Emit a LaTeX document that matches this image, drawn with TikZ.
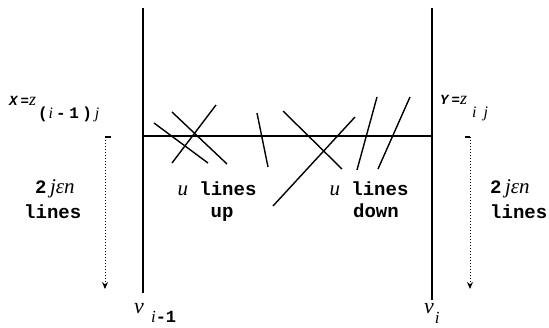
\documentclass[tikz,border=0pt]{standalone}
\usepackage{fontspec}
\setmonofont{Liberation Mono}
\newfontfamily\itf{Liberation Serif}
\newfontfamily\sptt{Liberation Mono}[LetterSpace=22]
\newcommand{\itp}[1]{{\itf\mdseries\itshape #1}}
\usetikzlibrary{arrows.meta}
\tikzset{
  mainline/.style={line width=1.1pt},
  crossline/.style={line width=1.4pt},
  guide/.style={dotted, line width=1pt, -{Stealth[length=7pt,width=6pt]}},
  hook/.style={line width=1.1pt},
  lbl/.style={font=\ttfamily\bfseries\fontsize{19}{22}\selectfont, inner sep=0pt},
  zlbl/.style={font=\sptt\bfseries\fontsize{14}{16}\selectfont, inner sep=0pt},
  vlbl/.style={font=\itf\itshape\fontsize{22}{24}\selectfont, inner sep=0pt},
}
\begin{document}
\begin{tikzpicture}[x=1pt,y=-1pt]
\useasboundingbox (0,0) rectangle (549,327);
% main frame
\coordinate (lt) at (143,8);
\coordinate (lb) at (143,293);
\coordinate (rt) at (432,8);
\coordinate (rb) at (432,300);
\coordinate (hl) at (143,136);
\coordinate (hr) at (432,136);
\draw[mainline] (lt) -- (lb);
\draw[mainline] (rt) -- (rb);
\draw[mainline] (hl) -- (hr);
% crossing lines
\draw[crossline] (154,123) -- (208,163);
\draw[crossline] (172,112) -- (227,164);
\draw[crossline] (216,105) -- (172,163);
\draw[crossline] (257,113) -- (268,167);
\draw[crossline] (283,111) -- (342,169);
\draw[crossline] (355,117) -- (273,206);
\draw[crossline] (377,97) -- (357,170);
\draw[crossline] (410,97) -- (378,169);
% dotted guides
\coordinate (gl0) at (111,137);
\coordinate (gl1) at (105,137);
\coordinate (gl2) at (105,289);
\coordinate (gr0) at (465,137);
\coordinate (gr1) at (470,137);
\coordinate (gr2) at (470,289);
\draw[hook] (gl0) -- (gl1);
\draw[guide] (gl1) -- (gl2);
\draw[hook] (gr0) -- (gr1);
\draw[guide] (gr1) -- (gr2);
% labels
\node[zlbl, anchor=base west] (xlab) at (9,105) {\itshape X=\itp{\fontsize{18}{18}\selectfont z}\raisebox{-13pt}{\fontsize{16}{18}\selectfont\upshape\kern2pt(\kern1pt\itp{i}\kern3pt-1)\kern3pt\itp{j}}};
\node[zlbl, anchor=base west] (ylab) at (440,104) {\itshape Y=\itp{\fontsize{18}{18}\selectfont z}\hspace{5pt}\raisebox{-13pt}{\itp{\fontsize{16}{18}\selectfont i\hspace{7pt}j}}};
\node[lbl, anchor=base west] (ln1) at (35,193) {2\itp{\fontsize{21}{22}\selectfont \,jεn}};
\node[lbl, anchor=base west] (ln2) at (24,218) {lines};
\node[lbl, anchor=base west] (rn1) at (490,193) {2\itp{\fontsize{21}{22}\selectfont \,jεn}};
\node[lbl, anchor=base west] (rn2) at (490,218) {lines};
\node[lbl, anchor=base] (ulu) at (217,195) {\itp{\fontsize{21}{22}\selectfont u} lines};
\node[lbl, anchor=base] (up) at (222,217) {up};
\node[lbl, anchor=base] (uld) at (369,195) {\itp{\fontsize{21}{22}\selectfont u} lines};
\node[lbl, anchor=base] (down) at (376,217) {down};
\node[vlbl, anchor=base west] (v1) at (134,313) {v\raisebox{-9pt}{\fontsize{17}{18}\selectfont\, i{\ttfamily\bfseries\upshape -1}}};
\node[vlbl, anchor=base west] (v2) at (424,313) {v\raisebox{-10pt}{\fontsize{17}{18}\selectfont\kern1pt i}};
\end{tikzpicture}
\end{document}
